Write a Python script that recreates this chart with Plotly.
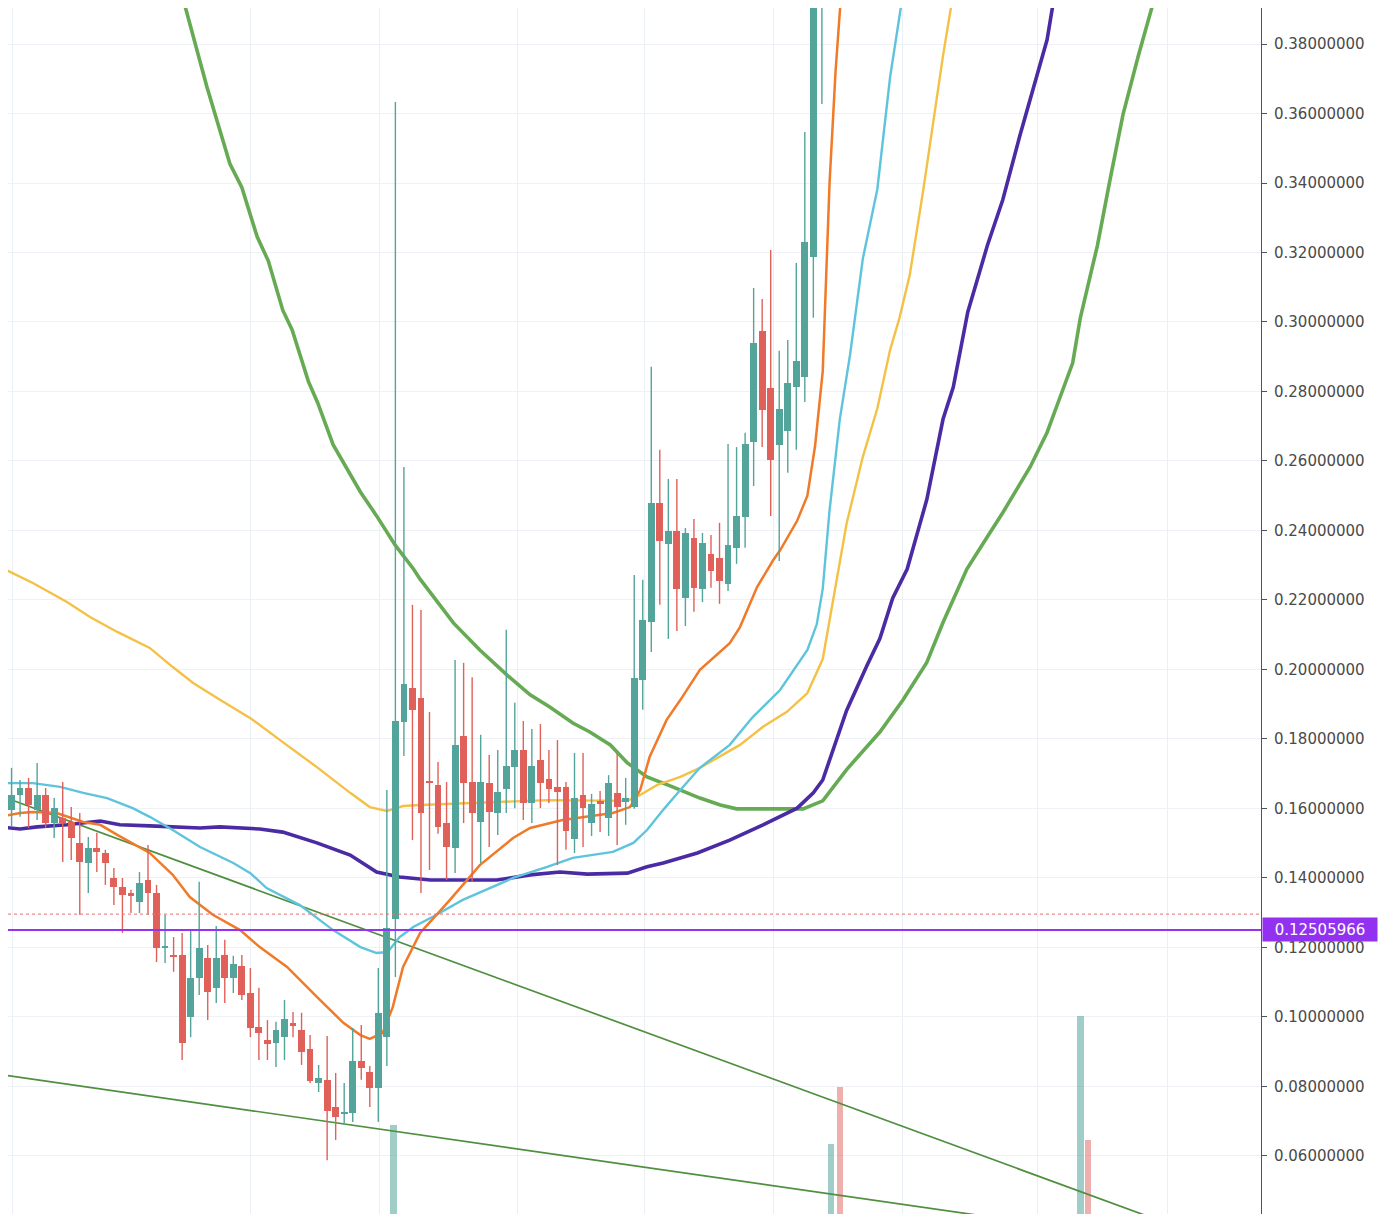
import plotly.graph_objects as go

# ---------------- data ----------------
# candle OHLC, one value per bar (bar index 0..96)
opens = [
    .1653, .1596, .1639, .1659, .1596, .1639, .1558, .1573, .1561, .1501,
    .1443, .1486, .1472, .1400, .1374, .1357, .1331, .1394, .1357, .1201,
    .1178, .1178, .1000, .1112, .1170, .1084, .1178, .1112, .1147, .1069,
    .0971, .0934, .0925, .0942, .0983, .0963, .0908, .0810, .0819, .0741,
    .0721, .0724, .0873, .0842, .0796, .0942, .1282, .1849, .1947, .1918,
    .1679, .1668, .1558, .1486, .1809, .1676, .1561, .1673, .1587, .1656,
    .1719, .1768, .1616, .1740, .1685, .1662, .1662, .1512, .1639, .1558,
    .1622, .1573, .1645, .1619, .1604, .1970, .2137, .2479, .2361, .2399,
    .2206, .2378, .2232, .2332, .2321, .2246, .2350, .2439, .2655, .2974,
    .2810, .2646, .2686, .2813, .2842, .3187, .3980]
highs = [
    .1777, .1717, .1682, .1688, .1731, .1659, .1630, .1676, .1604, .1587,
    .1518, .1530, .1481, .1429, .1400, .1366, .1417, .1495, .1380, .1294,
    .1230, .1242, .1250, .1389, .1207, .1262, .1222, .1176, .1178, .1141,
    .1084, .0991, .0986, .1049, .1014, .1012, .0948, .0862, .0945, .0839,
    .0810, .0968, .0977, .0859, .1141, .1653, .3633, .2583, .2186, .2171,
    .1878, .1734, .1676, .2027, .2019, .1978, .1812, .1754, .1768, .2114,
    .1904, .1852, .1829, .1843, .1768, .1797, .1676, .1760, .1760, .1642,
    .1650, .1696, .1760, .1688, .2272, .2258, .2871, .2632, .2548, .2548,
    .2407, .2433, .2393, .2387, .2422, .2649, .2640, .2681, .3098, .3066,
    .3207, .2917, .2948, .3170, .3547, .4200, .4400]
lows = [
    .1524, .1547, .1576, .1544, .1567, .1544, .1515, .1446, .1452, .1294,
    .1357, .1417, .1380, .1322, .1242, .1299, .1299, .1294, .1158, .1155,
    .1130, .0876, .0942, .1063, .0991, .1040, .1040, .1069, .1049, .0942,
    .0876, .0876, .0856, .0876, .0942, .0862, .0810, .0784, .0588, .0646,
    .0695, .0698, .0819, .0741, .0698, .0859, .1115, .1751, .1509, .1357,
    .1423, .1527, .1394, .1414, .1558, .1389, .1443, .1489, .1524, .1587,
    .1601, .1567, .1558, .1601, .1616, .1437, .1481, .1472, .1489, .1521,
    .1532, .1521, .1495, .1553, .1599, .1884, .2050, .2186, .2088, .2111,
    .2125, .2166, .2194, .2235, .2189, .2226, .2304, .2350, .2528, .2640,
    .2442, .2312, .2566, .2632, .2770, .3012, .3627]
closes = [
    .1630, .1639, .1659, .1610, .1639, .1558, .1601, .1558, .1515, .1446,
    .1486, .1475, .1443, .1374, .1351, .1348, .1386, .1357, .1199, .1204,
    .1173, .0925, .1112, .1199, .1072, .1170, .1112, .1153, .1063, .0968,
    .0954, .0922, .0963, .0994, .0974, .0899, .0816, .0825, .0730, .0712,
    .0727, .0873, .0853, .0796, .1012, .1256, .1852, .1958, .1884, .1587,
    .1673, .1547, .1489, .1783, .1673, .1587, .1676, .1590, .1648, .1722,
    .1768, .1616, .1722, .1673, .1656, .1648, .1535, .1630, .1601, .1613,
    .1613, .1673, .1604, .1630, .1976, .2142, .2479, .2370, .2399, .2232,
    .2393, .2235, .2364, .2284, .2255, .2358, .2442, .2649, .2940, .2747,
    .2603, .2750, .2825, .2888, .3230, .4050, .4300]

# moving averages (bar index, value)
ma_orange_x = [-0.35, 2.0, 3.5, 6.3, 9.4, 11.4, 13.4, 16.1, 17.2, 19.9, 21.9, 24.6, 27.8, 30.1, 33.3,
               36.8, 39.9, 41.9, 43.0, 44.5, 45.7, 46.9, 48.9, 52.4, 55.9, 59.8, 61.8, 65.6, 71.5,
               73.5, 74.7, 75.8, 77.8, 79.4, 81.7, 85.2, 86.4, 88.4, 90.3, 91.1, 93.1, 94.3, 95.2,
               96.1, 96.9, 97.6, 98.3]
ma_orange = [.1576, .1587, .1590, .1587, .1561, .1553, .1524, .1486, .1472, .1409, .1345, .1294, .1250,
             .1201, .1144, .1058, .0983, .0948, .0937, .0954, .1029, .1144, .1242, .1337, .1437, .1515,
             .1544, .1567, .1587, .1604, .1653, .1748, .1855, .1912, .1999, .2076, .2122, .2237, .2315,
             .2343, .2428, .2500, .2643, .2858, .3400, .3720, .3960]

ma_cyan_x = [-0.35, 3.5, 6.7, 9.4, 12.2, 15.2, 17.2, 19.9, 23.1, 27.0, 29.0, 30.9, 34.8, 38.7, 41.9,
             43.8, 45.1, 46.5, 48.1, 50.5, 53.9, 59.8, 63.8, 66.8, 71.5, 73.9, 75.5, 77.4, 79.4, 81.7,
             85.2, 87.9, 91.1, 94.3, 95.4, 96.1, 96.9, 98.1, 99.3, 100.8, 102.5, 104.0, 105.6]
ma_cyan = [.1673, .1673, .1662, .1645, .1630, .1601, .1576, .1538, .1489, .1443, .1414, .1371, .1322,
           .1250, .1201, .1184, .1187, .1230, .1259, .1290, .1337, .1400, .1432, .1458, .1475, .1501,
           .1538, .1596, .1653, .1717, .1783, .1863, .1941, .2056, .2130, .2232, .2458, .2720, .2905,
           .3182, .3382, .3705, .3960]

ma_yellow_x = [-0.35, 3.5, 7.5, 10.2, 13.4, 17.2, 19.9, 22.3, 25.1, 29.0, 32.8, 36.8, 40.7, 43.0, 45.0,
               46.9, 48.9, 52.1, 59.8, 63.8, 73.2, 74.7, 76.7, 79.4, 81.7, 84.4, 86.4, 89.1, 91.9,
               94.3, 96.1, 97.3, 98.9, 100.8, 102.5, 104.0, 105.1, 106.3, 107.9, 109.0, 110.2, 111.5]
ma_yellow = [.2295, .2249, .2194, .2151, .2108, .2062, .2007, .1961, .1918, .1860, .1791, .1719, .1645,
             .1604, .1593, .1607, .1610, .1613, .1619, .1624, .1622, .1639, .1668, .1691, .1717, .1754,
             .1783, .1835, .1878, .1932, .2030, .2197, .2420, .2612, .2751, .2920, .3012, .3135, .3382,
             .3566, .3766, .3960]

ma_purple_x = [-0.35, 2.0, 4.0, 7.5, 11.4, 13.7, 17.2, 23.1, 25.4, 30.1, 32.8, 36.8, 40.7, 43.8, 46.5,
               50.1, 57.9, 61.8, 65.3, 68.5, 73.2, 75.5, 77.4, 81.4, 85.2, 89.1, 93.1, 95.0, 96.1,
               98.9, 101.3, 102.8, 104.3, 106.0, 108.3, 110.2, 111.4, 113.1, 115.4, 117.2, 119.2,
               121.2, 122.4, 123.4]
ma_purple = [.1547, .1541, .1547, .1553, .1564, .1553, .1550, .1544, .1547, .1541, .1532, .1501, .1466,
             .1417, .1403, .1394, .1394, .1409, .1417, .1411, .1414, .1432, .1443, .1472, .1509, .1553,
             .1601, .1645, .1682, .1882, .2012, .2089, .2205, .2289, .2489, .2720, .2812, .3028, .3220,
             .3351, .3535, .3712, .3812, .3960]

ma_green_x = [21.0, 22.2, 23.9, 26.6, 28.0, 29.8, 31.1, 32.8, 33.9, 35.8, 36.9, 38.7, 41.9, 43.8, 46.0,
              48.1, 48.9, 52.8, 55.9, 59.1, 61.8, 64.1, 66.8, 68.8, 71.2, 73.2, 75.5, 78.5, 81.7, 84.1,
              86.0, 93.8, 96.1, 98.9, 102.8, 105.5, 108.3, 110.2, 113.0, 115.4, 117.2, 120.4, 122.4,
              123.9, 125.4, 126.3, 128.3, 129.8, 131.3, 133.1, 135.2]
ma_green = [.3940, .3831, .3677, .3455, .3387, .3245, .3176, .3034, .2977, .2829, .2767, .2647, .2511,
            .2442, .2357, .2290, .2260, .2134, .2056, .1984, .1927, .1892, .1846, .1820, .1783, .1731,
            .1691, .1662, .1630, .1610, .1599, .1599, .1622, .1712, .1820, .1912, .2020, .2135, .2289,
            .2382, .2451, .2582, .2682, .2782, .2882, .3012, .3220, .3412, .3597, .3766, .3950]

# trend lines (bar index, price) end points
trend_upper_x = [-0.35, 140.0]
trend_upper = [.16367, .03744]
trend_lower_x = [-0.35, 140.0]
trend_lower = [.08346, .03387]

# volume bars
vol_x = [45.8, 97.1, 98.1, 126.3, 127.2]
vol = [7.4, 5.8, 10.5, 16.4, 6.1]
vol_up = [True, True, False, True, False]

# reference lines / labels
last_price = 0.12505966
alert_price = 0.1296
time_grid = [1.06, 29.07, 44.08, 60.26, 75.26, 90.27, 105.4, 121.3, 136.5]
price_ticks = [0.06, 0.08, 0.10, 0.12, 0.14, 0.16, 0.18, 0.20, 0.22, 0.24, 0.26, 0.28,
               0.30, 0.32, 0.34, 0.36, 0.38]

# ---------------- styles ----------------
UP = "#53a49a"
DOWN = "#e0605a"
Y_RANGE = [0.0433, 0.39036]
X_RANGE = [0.586, 147.48]
FONT = "DejaVu Sans"

fig = go.Figure()

# volume (base subplot)
fig.add_trace(go.Bar(
    x=vol_x, y=vol, width=0.75, xaxis="x", yaxis="y",
    marker=dict(color=["rgba(83,164,154,0.55)" if u else "rgba(224,96,90,0.5)" for u in vol_up],
                line=dict(width=0)),
    hoverinfo="skip"))

# trend lines
for tx, ty in [(trend_upper_x, trend_upper), (trend_lower_x, trend_lower)]:
    fig.add_trace(go.Scatter(x=tx, y=ty, mode="lines", xaxis="x", yaxis="y2",
                             line=dict(color="#4f8f3f", width=1.7), hoverinfo="skip"))

# moving averages
for mx, my, col, w in [
    (ma_green_x, ma_green, "#66aa54", 3.6),
    (ma_purple_x, ma_purple, "#4a2ba3", 3.6),
    (ma_yellow_x, ma_yellow, "#f4c146", 2.4),
    (ma_cyan_x, ma_cyan, "#5ec4dc", 2.4),
    (ma_orange_x, ma_orange, "#f07a28", 2.5),
]:
    fig.add_trace(go.Scatter(x=mx, y=my, mode="lines", xaxis="x", yaxis="y2",
                             line=dict(color=col, width=w), hoverinfo="skip"))

# candles (overlay subplot on top)
idx = list(range(len(opens)))
for is_up, col in [(True, UP), (False, DOWN)]:
    sel = [i for i in idx if (closes[i] >= opens[i]) == is_up]
    wx, wy = [], []
    for i in sel:
        wx += [i, i, None]
        wy += [lows[i], highs[i], None]
    fig.add_trace(go.Scatter(x=wx, y=wy, mode="lines", xaxis="x", yaxis="y3",
                             line=dict(color=col, width=1.4), hoverinfo="skip"))
    base = [min(opens[i], closes[i]) for i in sel]
    hgt = [max(abs(closes[i] - opens[i]), 0.0004) for i in sel]
    fig.add_trace(go.Bar(x=sel, y=hgt, base=base, width=0.8, xaxis="x", yaxis="y3",
                         marker=dict(color=col, line=dict(width=0)), hoverinfo="skip"))

fig.update_layout(
    width=1388, height=1206,
    margin=dict(l=0, r=135, t=0, b=0),
    paper_bgcolor="white", plot_bgcolor="white",
    showlegend=False, barmode="overlay", bargap=0,
    xaxis=dict(range=X_RANGE, tickvals=time_grid, showticklabels=False, ticks="",
               showgrid=True, gridcolor="#e9eff5", gridwidth=1, zeroline=False, showline=False),
    yaxis=dict(range=[0, 100], visible=False, showgrid=False, zeroline=False),
    yaxis2=dict(overlaying="y", side="right", anchor="x", range=Y_RANGE,
                tickvals=price_ticks, tickformat=".8f",
                showgrid=True, gridcolor="#eef2f7", gridwidth=1, zeroline=False,
                showline=True, linecolor="#50535e", linewidth=1,
                ticks="outside", ticklen=5, tickcolor="#50535e",
                ticklabelstandoff=4,
                tickfont=dict(family=FONT, size=15, color="#4a4a4a")),
    yaxis3=dict(overlaying="y", side="right", range=Y_RANGE, visible=False,
                showgrid=False, zeroline=False),
    shapes=[
        dict(type="line", xref="paper", x0=0, x1=1, yref="y2", y0=alert_price, y1=alert_price,
             line=dict(color="#e57373", width=1, dash="dot"), layer="above"),
        dict(type="line", xref="paper", x0=0, x1=1, yref="y2", y0=last_price, y1=last_price,
             line=dict(color="#9b30f5", width=2), layer="above"),
    ],
    annotations=[
        dict(x=1, xref="paper", xanchor="left", xshift=1, y=last_price, yref="y2",
             text="0.12505966", showarrow=False, bgcolor="#9232f0",
             font=dict(family=FONT, size=15, color="white"),
             width=112, height=21, align="center"),
    ],
)

fig.write_html("out.html")
